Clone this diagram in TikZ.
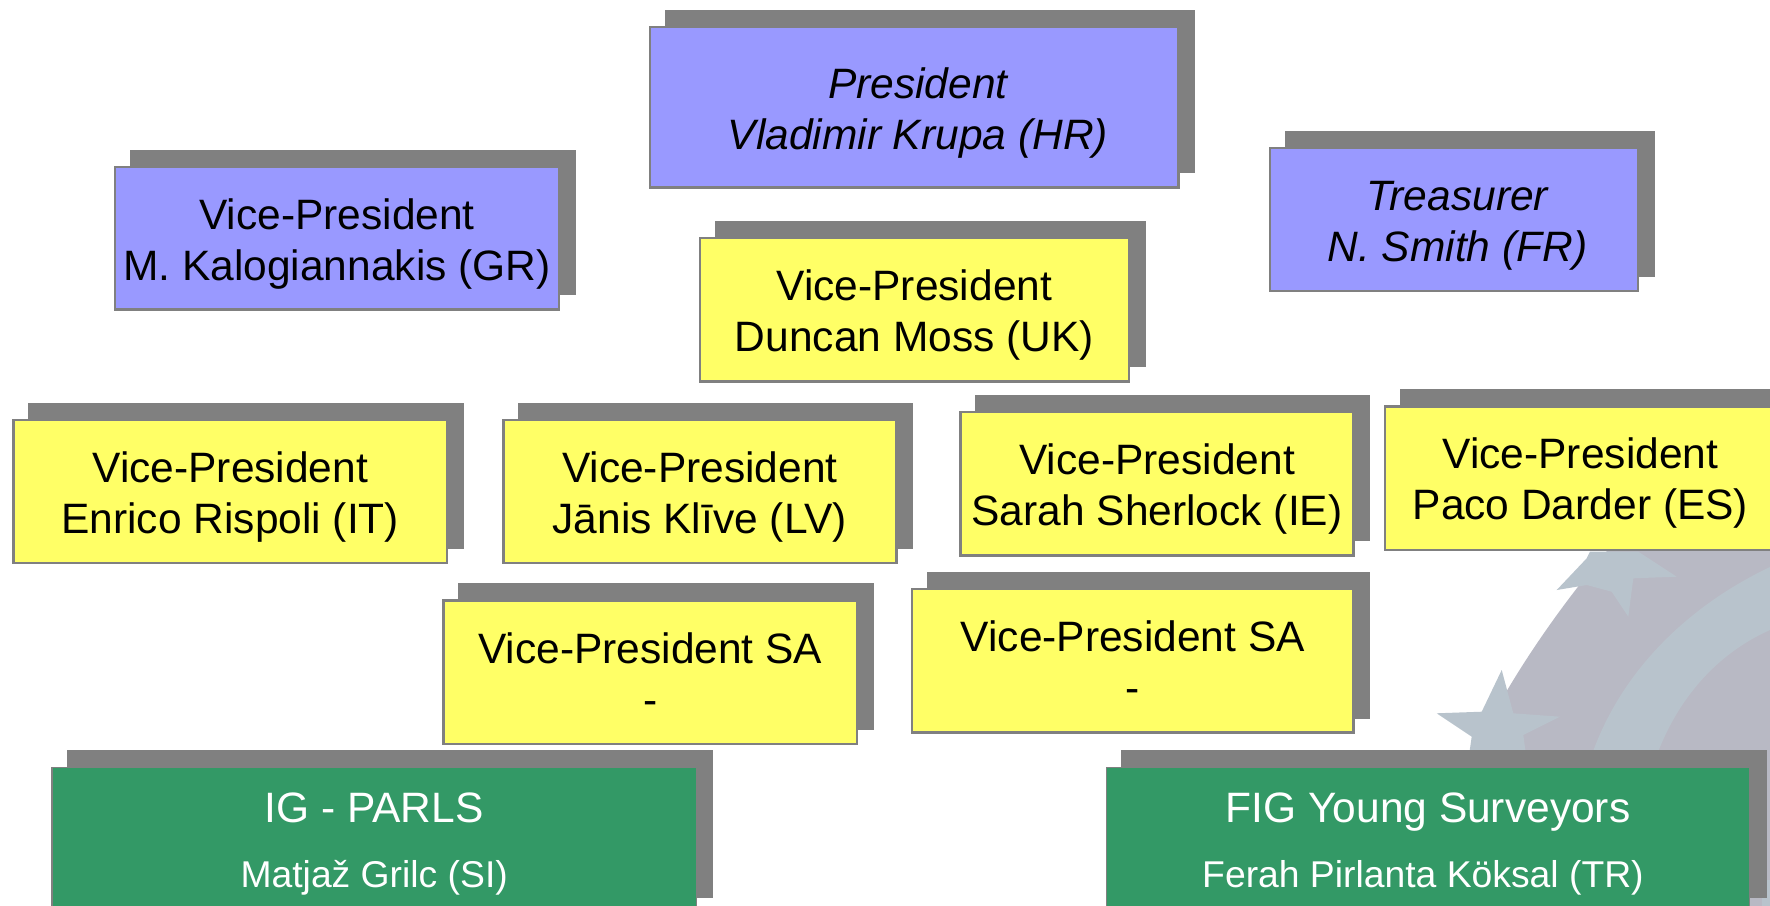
\documentclass[tikz,border=0pt]{standalone}
\usepackage{fontspec}
\setmainfont{Liberation Sans}
\newcommand{\stl}{\rule[-0.3em]{0pt}{0.9em}}
\newcommand{\stt}{\rule[-0.3em]{0pt}{1.37em}}
\newcommand{\itl}{\hspace*{7pt}}
\newcommand{\orgbox}[7]{%
  \node[shadowbox,minimum width={(#4-#2+1)*1.12883pt},minimum height={(#5-#3+2)*1.12883pt}] (#1s) at ({(#2+#4)/2+13.9},{(#3+#5)/2-14}) {};
  \node[#6,minimum width={(#4-#2)*1.12883pt},minimum height={(#5-#3)*1.12883pt}] (#1) at ({(#2+#4)/2},{(#3+#5)/2}) {#7};
}
\tikzset{
  shadowbox/.style={rectangle,fill=shadowgrey,draw=shadowgrey,line width=0.8pt,inner sep=0pt},
  orgnode/.style={rectangle,draw=shadowgrey,line width=2.4pt,inner sep=0pt,align=center,text=black,font=\fontsize{42.5}{51}\selectfont},
  bluebox/.style={orgnode,fill=boxblue},
  yellowbox/.style={orgnode,fill=boxyellow},
  greenbox/.style={orgnode,fill=boxgreen,text=white,font=\fontsize{42.5}{65.8}\selectfont,line width=1.4pt},
  logofill/.style={fill=logogrey,draw=none},
  bandfill/.style={fill=logoband,draw=none}
}
\definecolor{shadowgrey}{HTML}{808080}
\definecolor{boxblue}{HTML}{9999FF}
\definecolor{boxyellow}{HTML}{FFFF66}
\definecolor{boxgreen}{HTML}{339966}
\definecolor{logogrey}{HTML}{B8B9C4}
\definecolor{logoband}{HTML}{B8C3CC}
\begin{document}
\begin{tikzpicture}[x=1.12883pt,y=-1.12883pt]
\useasboundingbox (0,0) rectangle (1568,802);
\begin{scope}[x=1pt,y=-1pt]
  \path[logofill] (1612,545) .. controls (1565,600) and (1510,675) .. (1470,760) -- (1465,907) -- (1770,907) -- (1770,545) -- cycle;
  \path[bandfill] (1770,567) .. controls (1690,605) and (1620,670) .. (1590,760) -- (1655,760) .. controls (1680,690) and (1725,650) .. (1770,630) -- cycle;
  \path[bandfill] (1556.7,590) -- (1586.7,585) -- (1611.7,591.7) -- (1628.3,616.7) -- (1633.3,578.3) -- (1676.7,576.7) -- (1638.3,551.7) -- (1590,551.7) -- (1586.7,558.3) -- cycle;
  \path[bandfill] (1501.7,670) -- (1513.3,713.3) -- (1560,716.7) -- (1523.3,735) -- (1526.7,760) -- (1468.3,760) -- (1471.7,736.7) -- (1436.7,713.3) -- (1481.7,711.7) -- cycle;
  \path[bandfill] (1762,880) rectangle (1770,907);
\end{scope}
\orgbox{pres}{576}{24}{1044}{166}{bluebox,font=\fontsize{42.5}{51}\selectfont\itshape}{\itl\stt President\\\itl\stl Vladimir Krupa (HR)}
\orgbox{kalog}{102}{148}{495}{274}{bluebox}{\stt Vice-President\\\stl M. Kalogiannakis (GR)}
\orgbox{treas}{1125}{131}{1451}{258}{bluebox,font=\fontsize{42.5}{51}\selectfont\itshape}{\itl\stt Treasurer\\\itl\stl N. Smith (FR)}
\orgbox{moss}{620}{211}{1000}{338}{yellowbox}{\stt Vice-President\\\stl Duncan Moss (UK)}
\orgbox{rispoli}{12}{372}{396}{499}{yellowbox}{\stt Vice-President\\\stl Enrico Rispoli (IT)}
\orgbox{klive}{446}{372}{794}{499}{yellowbox}{\stt Vice-President\\\stl Jānis Klīve (LV)}
\orgbox{sherlock}{851}{365}{1199}{492}{yellowbox}{\stt Vice-President\\\stl Sarah Sherlock (IE)}
\orgbox{darder}{1227}{360}{1573}{487}{yellowbox}{\stt Vice-President\\\stl Paco Darder (ES)}
\orgbox{saone}{393}{532}{759}{659}{yellowbox}{\stt Vice-President SA\\\stl -}
\orgbox{satwo}{808}{522}{1199}{649}{yellowbox}{\stt Vice-President SA\\\stl -}
\orgbox{parls}{46}{680}{617}{808}{greenbox}{\rule{0pt}{38pt}IG - PARLS\\\fontsize{37.3}{65.8}\selectfont Matjaž Grilc (SI)}
\orgbox{young}{980}{680}{1550}{808}{greenbox}{\rule{0pt}{38pt}FIG Young Surveyors\\\fontsize{37.3}{65.8}\selectfont Ferah Pirlanta Köksal (TR)\hspace*{10pt}}
\end{tikzpicture}
\end{document}
